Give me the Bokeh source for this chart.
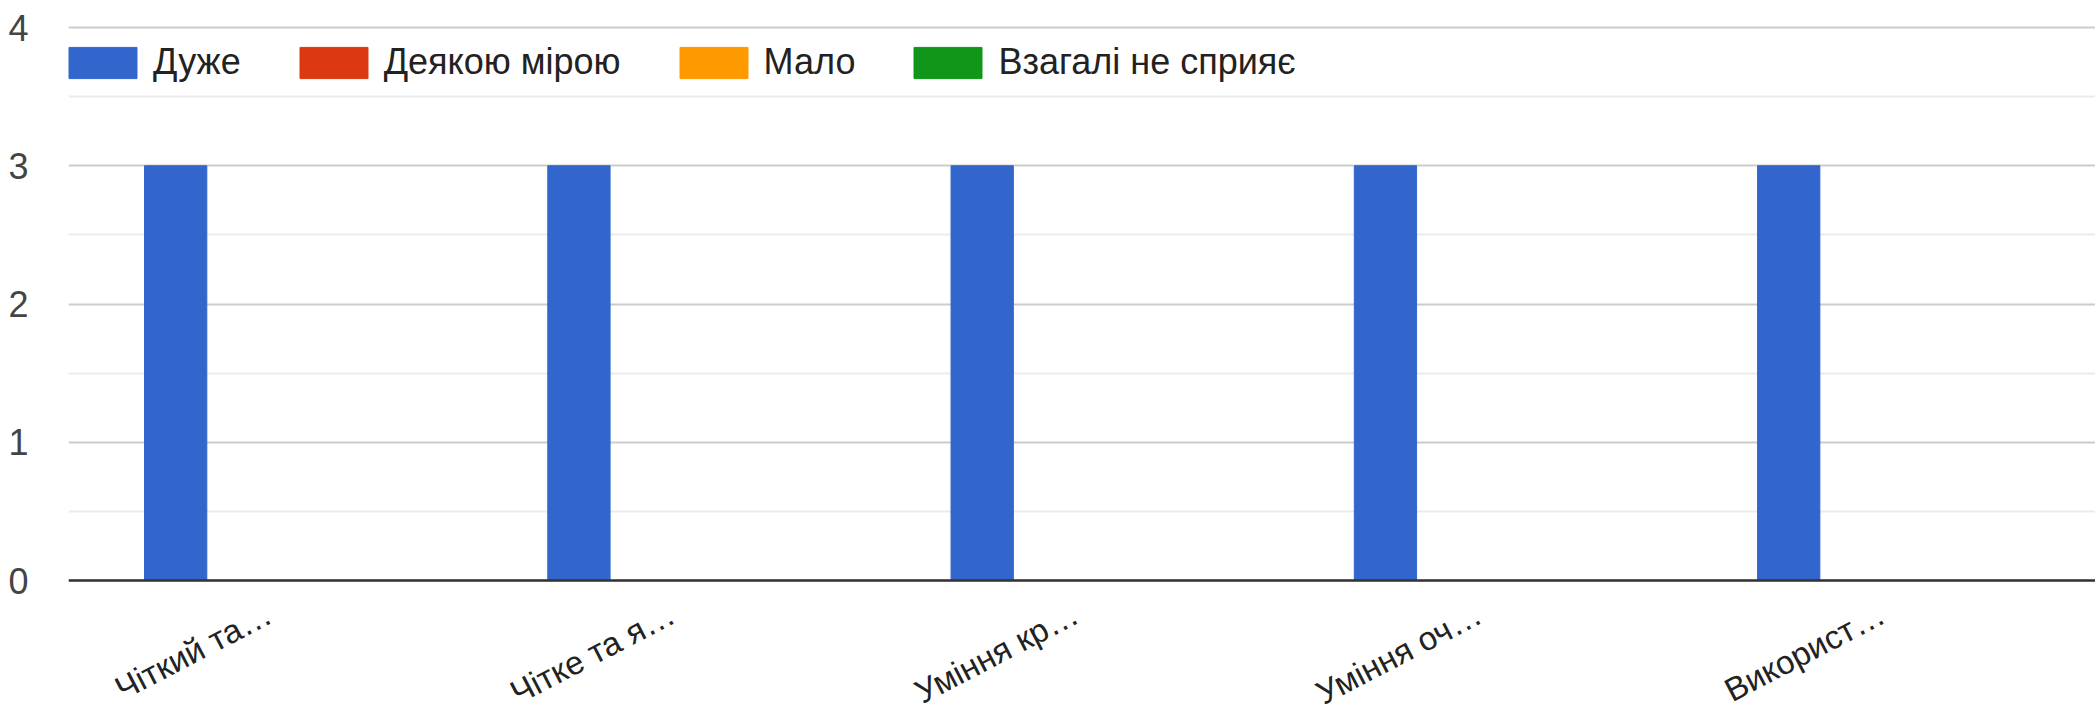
from bokeh.plotting import figure
from bokeh.models import Range1d, FixedTicker, Span, ColumnDataSource
from bokeh.transform import dodge
from bokeh.core.properties import value
from bokeh.embed import file_html
from bokeh.resources import INLINE

categories = ["Чіткий та…", "Чітке та я…", "Уміння кр…", "Уміння оч…", "Використ…"]
series_names = ["Дуже", "Деякою мірою", "Мало", "Взагалі не сприяє"]
duzhe = [3, 3, 3, 3, 3]
deyakoyu_miroyu = [0, 0, 0, 0, 0]
malo = [0, 0, 0, 0, 0]
vzagali_ne = [0, 0, 0, 0, 0]
colors = ["#3366CC", "#DC3912", "#FF9900", "#109618"]
y_ticks = [0, 1, 2, 3, 4]

FONT = "Liberation Sans"

xs = list(range(len(categories)))
src = ColumnDataSource(dict(x=xs, label=categories, duzhe=duzhe,
                            deyakoyu=deyakoyu_miroyu, malo=malo,
                            vzagali=vzagali_ne))

p = figure(width=2095, height=713, output_backend="svg", toolbar_location=None,
           x_range=Range1d(-0.4975, 4.529), y_range=Range1d(-0.962, 4.029),
           x_axis_location=None,
           min_border_left=68, min_border_right=0, min_border_top=23,
           min_border_bottom=0)
p.outline_line_color = None
p.background_fill_color = "white"
p.border_fill_color = "white"

group = 0.618
bw = group / 4
cols = ["duzhe", "deyakoyu", "malo", "vzagali"]
for j, (c, name, col) in enumerate(zip(cols, series_names, colors)):
    off = -group / 2 + bw * (j + 0.5)
    p.vbar(x=dodge("x", off, range=p.x_range), top=c, bottom=0, width=bw,
           source=src, fill_color=col, line_color=col, line_width=1,
           legend_label=name)

# grid
for g in p.grid:
    if g.dimension == 0:
        g.visible = False
p.yaxis.ticker = FixedTicker(ticks=y_ticks, minor_ticks=[t + 0.5 for t in y_ticks[:-1]])
p.ygrid.grid_line_color = "#cccccc"
p.ygrid.grid_line_width = 2
p.ygrid.minor_grid_line_color = "#ebebeb"
p.ygrid.minor_grid_line_width = 2

base = Span(location=0, dimension="width", line_color="#333333", line_width=2.5)
p.add_layout(base)

# y axis
p.yaxis.axis_line_color = None
p.yaxis.major_tick_line_color = None
p.yaxis.minor_tick_line_color = None
p.yaxis.major_tick_out = 0
p.yaxis.major_label_text_font = FONT
p.yaxis.major_label_text_font_size = "36px"
p.yaxis.major_label_text_color = "#444444"
p.yaxis.major_label_standoff = 36

# category labels (slanted, under the baseline)
p.text(x="x", y=0, text="label", source=src, angle=0.48,
       x_offset=0, y_offset=31, text_align="right", text_baseline="alphabetic",
       text_font=value(FONT), text_font_size="33px", text_color="#222222")

# legend
lg = p.legend[0]
lg.orientation = "horizontal"
lg.location = (-8, 630)
lg.margin = 0
lg.padding = 0
lg.spacing = 50
lg.glyph_width = 85
lg.glyph_height = 39
lg.label_standoff = 8
lg.label_text_font = FONT
lg.label_text_font_size = "36px"
lg.label_text_color = "#222222"
lg.border_line_color = None
lg.background_fill_alpha = 0

open("out.html", "w").write(file_html(p, INLINE))
